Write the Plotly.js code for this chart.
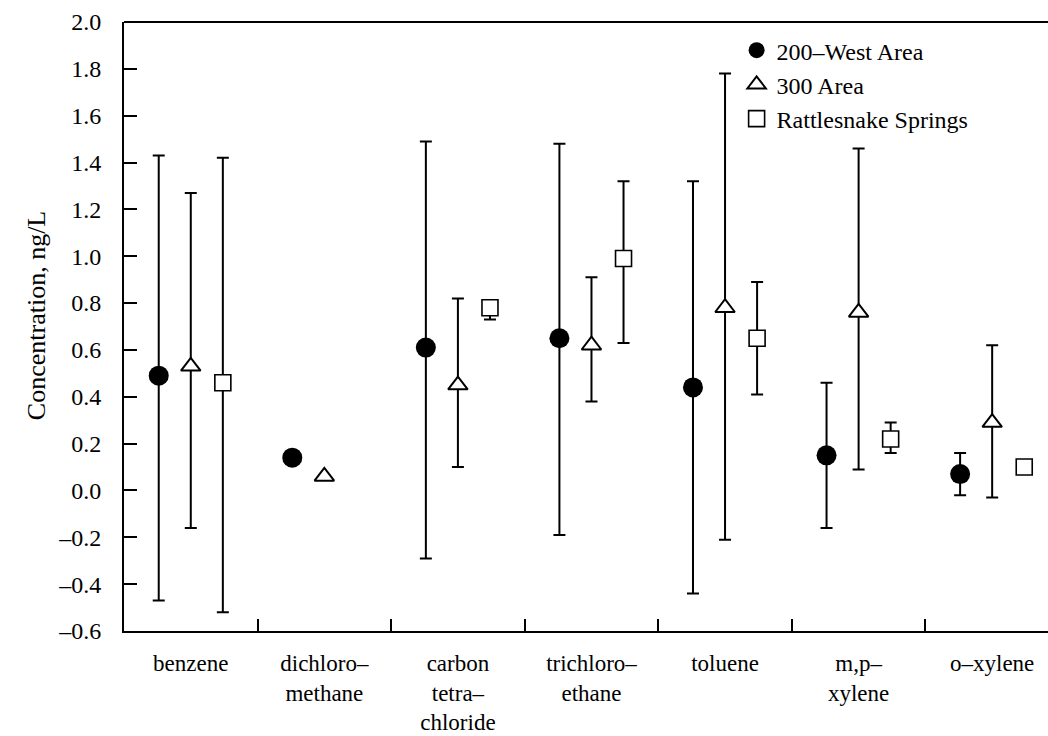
<!DOCTYPE html>
<html>
<head>
<meta charset="utf-8">
<script src="https://cdn.plot.ly/plotly-3.0.1.min.js"></script>
<style>html,body{margin:0;padding:0;background:#fff;}#chart{width:1048px;height:736px;}</style>
</head>
<body>
<div id="chart"></div>
<script>
// Categories (tick labels)
const categories = ["benzene", "dichloro–<br>methane", "carbon<br>tetra–<br>chloride", "trichloro–<br>ethane", "toluene", "m,p–<br>xylene", "o–xylene"];
const seriesNames = ["200–West Area", "300 Area", "Rattlesnake Springs"];

// 200-West Area
const westIdx   = [0, 1, 2, 3, 4, 5, 6];
const westMean  = [0.49, 0.14, 0.61, 0.65, 0.44, 0.15, 0.07];
const westHigh  = [1.43, 0.14, 1.49, 1.48, 1.32, 0.46, 0.16];
const westLow   = [-0.47, 0.14, -0.29, -0.19, -0.44, -0.16, -0.02];

// 300 Area
const areaIdx   = [0, 1, 2, 3, 4, 5, 6];
const areaMean  = [0.53, 0.06, 0.45, 0.62, 0.78, 0.76, 0.29];
const areaHigh  = [1.27, 0.06, 0.82, 0.91, 1.78, 1.46, 0.62];
const areaLow   = [-0.16, 0.06, 0.10, 0.38, -0.21, 0.09, -0.03];

// Rattlesnake Springs (no value for dichloromethane)
const rattIdx   = [0, 2, 3, 4, 5, 6];
const rattMean  = [0.46, 0.78, 0.99, 0.65, 0.22, 0.10];
const rattHigh  = [1.42, 0.80, 1.32, 0.89, 0.29, 0.11];
const rattLow   = [-0.52, 0.73, 0.63, 0.41, 0.16, 0.09];

const yTickVals = [-0.6, -0.4, -0.2, 0.0, 0.2, 0.4, 0.6, 0.8, 1.0, 1.2, 1.4, 1.6, 1.8, 2.0];
const yTickText = ["–0.6", "–0.4", "–0.2", "0.0", "0.2", "0.4", "0.6", "0.8", "1.0", "1.2", "1.4", "1.6", "1.8", "2.0"];

const FONT = "Liberation Serif, Times New Roman, serif";
const offsets = [-0.24, 0, 0.24];

function mkTrace(name, idx, mean, high, low, off, marker) {
  return {
    type: "scatter", mode: "markers", name: name,
    x: idx.map(i => i + off), y: mean,
    error_y: {
      type: "data", symmetric: false,
      array: high.map((h, i) => h - mean[i]),
      arrayminus: low.map((l, i) => mean[i] - l),
      color: "#000", thickness: 2, width: 6
    },
    marker: marker, cliponaxis: false
  };
}

const traces = [
  mkTrace(seriesNames[0], westIdx, westMean, westHigh, westLow, offsets[0],
    {symbol: "circle", size: 20, color: "#000", line: {color: "#000", width: 0}}),
  mkTrace(seriesNames[1], areaIdx, areaMean, areaHigh, areaLow, offsets[1],
    {symbol: "triangle-up", size: 17, color: "#fff", line: {color: "#000", width: 2}}),
  mkTrace(seriesNames[2], rattIdx, rattMean, rattHigh, rattLow, offsets[2],
    {symbol: "square", size: 16, color: "#fff", line: {color: "#000", width: 1.6}})
];

const boundaries = [0.5, 1.5, 2.5, 3.5, 4.5, 5.5];

const layout = {
  width: 1048, height: 736,
  margin: {l: 124, r: 0, t: 22, b: 105},
  paper_bgcolor: "#fff", plot_bgcolor: "#fff",
  font: {family: FONT, size: 24, color: "#000"},
  showlegend: true,
  legend: {x: 0.663, y: 0.99, xanchor: "left", yanchor: "top",
           bgcolor: "rgba(0,0,0,0)", borderwidth: 0, itemwidth: 30,
           font: {family: FONT, size: 24, color: "#000"}, tracegroupgap: 0},
  xaxis: {
    range: [-0.5, 6.418], showgrid: false, zeroline: false,
    showline: true, linecolor: "#000", linewidth: 2, mirror: false,
    tickmode: "array", tickvals: [0, 1, 2, 3, 4, 5, 6], ticktext: categories,
    ticks: "", ticklabelstandoff: 10,
    tickfont: {family: FONT, size: 23, color: "#000"},
    minor: {tickmode: "array", tickvals: boundaries, ticks: "inside", ticklen: 12, tickwidth: 2, tickcolor: "#000", showgrid: false}
  },
  yaxis: {
    range: [-0.6, 2.0], showgrid: false, zeroline: false,
    showline: true, linecolor: "#000", linewidth: 2,
    tickmode: "array", tickvals: yTickVals, ticktext: yTickText,
    ticks: "inside", ticklen: 13, tickwidth: 2, tickcolor: "#000",
    ticklabelstandoff: 16,
    tickfont: {family: FONT, size: 24, color: "#000"}
  },
  shapes: [
    {type: "line", xref: "paper", yref: "paper", x0: 0, x1: 1, y0: 1, y1: 1, line: {color: "#000", width: 2}}
  ],
  annotations: [
    {text: "Concentration, ng/L", xref: "paper", yref: "paper", x: 0, y: 0.517,
     xshift: -88, textangle: -90, showarrow: false, xanchor: "center", yanchor: "middle",
     font: {family: FONT, size: 26, color: "#000"}}
  ]
};

Plotly.newPlot("chart", traces, layout, {displayModeBar: false, staticPlot: true});
</script>
</body>
</html>
